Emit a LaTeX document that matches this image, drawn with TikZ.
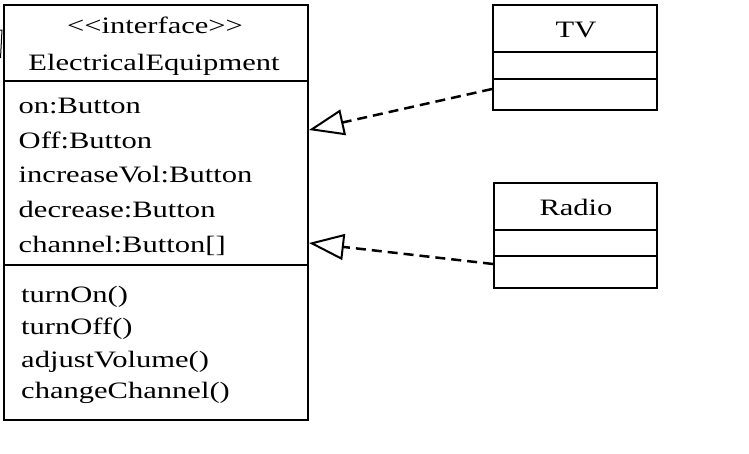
\documentclass[tikz,border=0pt]{standalone}
\usepackage{fontspec}
\setmainfont{Liberation Serif}[FakeStretch=1.3]
\usetikzlibrary{arrows.meta}
\begin{document}
\begin{tikzpicture}[x=1pt,y=-1pt,
  umlbox/.style={draw, line width=2pt, rectangle, inner sep=0pt, anchor=north west},
  divline/.style={line width=2pt},
  txt/.style={inner sep=0pt, font=\fontsize{23.5}{28}\selectfont},
  realize/.style={line width=2.5pt, dash pattern=on 10pt off 6pt,
    -{Triangle[open, length=35pt, width=26pt, line width=2pt]}}]
\useasboundingbox (0,0) rectangle (749,453);
% boxes
\node[umlbox, minimum width=304pt, minimum height=415pt] (main) at (3,4) {};
\node[umlbox, minimum width=164pt, minimum height=105pt] (tv) at (492,4) {};
\node[umlbox, minimum width=163pt, minimum height=105pt] (radio) at (493,182) {};
% dividers
\draw[divline] (main.west |- 0,81) -- (main.east |- 0,81);
\draw[divline] (main.west |- 0,265) -- (main.east |- 0,265);
\draw[divline] (tv.west |- 0,52) -- (tv.east |- 0,52);
\draw[divline] (tv.west |- 0,79) -- (tv.east |- 0,79);
\draw[divline] (radio.west |- 0,230) -- (radio.east |- 0,230);
\draw[divline] (radio.west |- 0,256) -- (radio.east |- 0,256);
% header texts
\node[txt, anchor=base] (stereo) at (155,33) {\textless\kern0pt\textless\kern0pt interface\kern0pt\textgreater\kern0pt\textgreater};
\node[txt, anchor=base] (mname) at (154,70) {ElectricalEquipment};
\node[txt, anchor=base] (tvname) at (576,37) {TV};
\node[txt, anchor=base] (rname) at (576,215) {Radio};
% attributes
\node[txt, anchor=base west] (a1) at (18.5,113) {on:Button};
\node[txt, anchor=base west] (a2) at (18.5,148) {Off:Button};
\node[txt, anchor=base west] (a3) at (18.5,182) {increaseVol:Button};
\node[txt, anchor=base west] (a4) at (18.5,217) {decrease:Button};
\node[txt, anchor=base west] (a5) at (18.5,252) {channel:Button[]};
% methods
\node[txt, anchor=base west] (m1) at (21,302) {turnOn()};
\node[txt, anchor=base west] (m2) at (21,334) {turnOff()};
\node[txt, anchor=base west] (m3) at (21,367) {adjustVolume()};
\node[txt, anchor=base west] (m4) at (21,398) {changeChannel()};
% connectors
\coordinate (tvport) at (tv.west |- 0,89);
\coordinate (mainTV) at (main.east |- 0,130);
\coordinate (rport) at (radio.west |- 0,264);
\coordinate (mainR) at (main.east |- 0,243);
\draw[realize] (tvport) -- (mainTV);
\draw[realize] (rport) -- (mainR);
% fragment at left edge
\coordinate (f1) at (0,30);
\coordinate (f2) at (2,30);
\coordinate (f3) at (0.5,58);
\draw[line width=1pt] (f1) -- (f2) -- (f3);
\end{tikzpicture}
\end{document}
